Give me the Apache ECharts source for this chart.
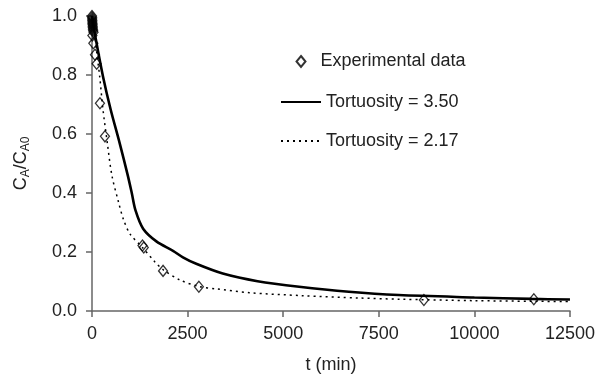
<!DOCTYPE html>
<html>
<head>
<meta charset="utf-8">
<script src="https://cdn.jsdelivr.net/npm/echarts@6/dist/echarts.min.js"></script>
<style>
html,body{margin:0;padding:0;background:#fff;}
#chart{width:598px;height:379px;}
</style>
</head>
<body>
<div id="chart"></div>
<script>
// Data
var expT = [0, 3, 5, 8, 10, 12, 15, 18, 20, 25, 30, 40, 10, 35, 78, 122, 208, 339, 1320, 1354, 1858, 2795, 8680, 11555];
var expC = [1.0, 0.995, 0.99, 0.985, 0.98, 0.975, 0.97, 0.965, 0.96, 0.955, 0.95, 0.945, 0.934, 0.908, 0.869, 0.838, 0.704, 0.592, 0.222, 0.215, 0.136, 0.082, 0.037, 0.040];

var tort350T = [0, 86, 286, 486, 720, 937, 1040, 1140, 1337, 1684, 2118, 2378, 2726, 3420, 4330, 5416, 6718, 8020, 10000, 11500, 12500];
var tort350C = [1.0, 0.931, 0.796, 0.684, 0.571, 0.459, 0.40, 0.34, 0.279, 0.236, 0.204, 0.182, 0.160, 0.127, 0.101, 0.082, 0.065, 0.054, 0.046, 0.041, 0.039];

var tort217T = [0, 60, 120, 200, 286, 399, 521, 694, 816, 990, 1320, 1641, 1860, 2300, 2800, 3246, 4115, 5500, 7000, 8020, 10000, 11500, 12500];
var tort217C = [1.0, 0.95, 0.88, 0.796, 0.684, 0.571, 0.459, 0.369, 0.313, 0.262, 0.215, 0.167, 0.14, 0.105, 0.083, 0.075, 0.062, 0.052, 0.044, 0.040, 0.035, 0.033, 0.032];

var xTicks = [0, 2500, 5000, 7500, 10000, 12500];
var yTicks = [0.0, 0.2, 0.4, 0.6, 0.8, 1.0];

var seriesNames = ['Experimental data', 'Tortuosity = 3.50', 'Tortuosity = 2.17'];

function zip(a, b) { return a.map(function (v, i) { return [v, b[i]]; }); }

var FONT = '"Liberation Sans", Arial, sans-serif';
var TXT = '#222';
var AX = '#666';
var CLEAR = 'rgba(0,0,0,0)';

var chart = echarts.init(document.getElementById('chart'), null, {renderer: 'canvas'});
chart.setOption({
  animation: false,
  backgroundColor: '#fff',
  textStyle: {fontFamily: FONT},
  grid: {left: 92, right: 26, top: 16, bottom: 66, containLabel: false},
  legend: [
    {
      data: [seriesNames[0]],
      left: 290.5, top: 47.5,
      itemWidth: 9, itemHeight: 11,
      textStyle: {fontSize: 18, color: TXT, fontFamily: FONT, padding: [0, 0, 0, 10]},
      selectedMode: false
    },
    {
      data: [seriesNames[1], seriesNames[2]],
      orient: 'vertical',
      left: 275, top: 88,
      itemWidth: 40, itemHeight: 14, itemGap: 21,
      itemStyle: {color: CLEAR, borderColor: CLEAR, borderWidth: 0},
      textStyle: {fontSize: 18, color: TXT, fontFamily: FONT, lineHeight: 14},
      selectedMode: false
    }
  ],
  xAxis: {
    type: 'value', min: xTicks[0], max: xTicks[xTicks.length - 1], interval: 2500,
    name: 't (min)', nameLocation: 'middle', nameGap: 45,
    nameTextStyle: {fontSize: 18, color: TXT, fontFamily: FONT},
    axisLine: {show: true, lineStyle: {color: AX, width: 1.5}},
    axisTick: {show: true, inside: false, length: 6, lineStyle: {color: AX, width: 1.5}},
    axisLabel: {fontSize: 18, color: TXT, margin: 14, fontFamily: FONT,
      formatter: function (v) { return String(v); }},
    splitLine: {show: false}
  },
  yAxis: {
    type: 'value', min: yTicks[0], max: yTicks[yTicks.length - 1], interval: 0.2,
    name: '{m|C}{s|A}{m|/C}{s|A0}', nameLocation: 'middle', nameGap: 60,
    nameTextStyle: {
      color: TXT, fontFamily: FONT,
      rich: {
        m: {fontSize: 18, lineHeight: 21, color: TXT, fontFamily: FONT},
        s: {fontSize: 12, lineHeight: 12, verticalAlign: 'bottom', color: TXT, fontFamily: FONT}
      }
    },
    axisLine: {show: true, lineStyle: {color: AX, width: 1.5}},
    axisTick: {show: true, inside: false, length: 6, lineStyle: {color: AX, width: 1.5}},
    axisLabel: {fontSize: 18, color: TXT, margin: 15, fontFamily: FONT,
      formatter: function (v) { return v.toFixed(1); }},
    splitLine: {show: false}
  },
  series: [
    {
      name: seriesNames[0], type: 'scatter',
      data: zip(expT, expC),
      symbol: 'diamond', symbolSize: [9, 11],
      itemStyle: {color: 'rgba(255,255,255,0)', borderColor: '#000', borderWidth: 1.3},
      z: 5
    },
    {
      name: seriesNames[1], type: 'line',
      data: zip(tort350T, tort350C),
      smooth: 0.3, showSymbol: false, symbol: 'none',
      lineStyle: {color: '#000', width: 2.6, type: 'solid'},
      itemStyle: {color: CLEAR, borderColor: CLEAR}
    },
    {
      name: seriesNames[2], type: 'line',
      data: zip(tort217T, tort217C),
      smooth: 0.3, showSymbol: false, symbol: 'none',
      lineStyle: {color: '#000', width: 1.5, type: [2, 4]},
      itemStyle: {color: CLEAR, borderColor: CLEAR}
    }
  ]
});
</script>
</body>
</html>
